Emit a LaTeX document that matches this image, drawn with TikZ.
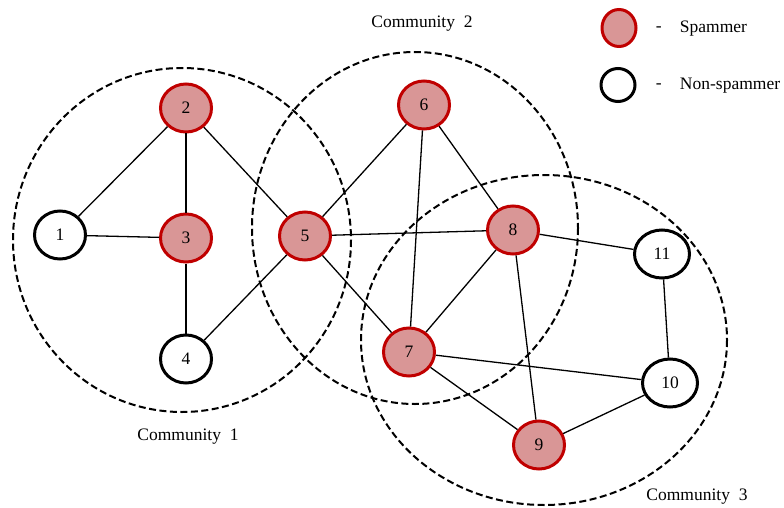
\documentclass[tikz,border=0pt]{standalone}
\usepackage{fontspec}
\setmainfont{Liberation Serif}
\usetikzlibrary{shapes.geometric}

\definecolor{spamfill}{RGB}{217,150,150}
\definecolor{spamline}{RGB}{192,0,0}

\begin{document}
\begin{tikzpicture}[x=1pt,y=-1pt,line width=1.3pt,
      font=\fontsize{17.5}{20}\selectfont,
      user node/.style={ellipse,draw,line width=3pt,inner sep=0pt,
        minimum width=51pt,minimum height=48pt},
      spam node/.style={user node,draw=spamline,fill=spamfill},
      plain node/.style={user node,draw=black,fill=white},
      community/.style={draw,line width=2pt,
        dash pattern=on 7pt off 3.5pt}]

      \useasboundingbox (0,0) rectangle (784,508);

      % communities
      \draw[community] (182,240) ellipse [x radius=169,y radius=172];
      \draw[community] (415,228) ellipse [x radius=163,y radius=176];
      \draw[community] (544,340) ellipse [x radius=183,y radius=165];

      \node (c1) at (188,437) {Community\hspace{0.5em}1};
      \node (c2) at (422,24) {Community\hspace{0.5em}2};
      \node (c3) at (697,497) {Community\hspace{0.5em}3};

      % users
      \node[plain node] (1) at (60,235) {1};
      \node[spam node] (2) at (186,108) {2};
      \node[spam node] (3) at (186,238) {3};
      \node[plain node] (4) at (186,359) {4};
      \node[spam node] (5) at (305,236) {5};
      \node[spam node] (6) at (424,105) {6};
      \node[spam node] (7) at (409,352) {7};
      \node[spam node] (8) at (513,230) {8};
      \node[spam node] (9) at (539,445) {9};
      \node[plain node,minimum width=55pt] (10) at (670,383) {10};
      \node[plain node,minimum width=55pt] (11) at (662,254) {11};

      \path
      (1) edge (2)
      (1) edge (3)
      (2) edge (3)
      (3) edge (4)
      (2) edge (5)
      (4) edge (5)
      (5) edge (6)
      (5) edge (8)
      (5) edge (7)
      (6) edge (7)
      (6) edge (8)
      (8) edge (7)
      (8) edge (11)
      (8) edge (9)
      (7) edge (10)
      (7) edge (9)
      (11) edge (10)
      (9) edge (10);

      % legend
      \node[spam node,minimum width=34pt,minimum height=37pt] (spam) at (619,28) {};
      \node[plain node,minimum width=34pt,minimum height=33pt] (nonspam) at (618,85) {};
      \node[anchor=west] (spamdash) at (652,29) {-};
      \node[anchor=west] (nonspamdash) at (652,86) {-};
      \node[anchor=west] (spamtext) at (676,29) {Spammer};
      \node[anchor=west] (nonspamtext) at (676,86) {Non-spammer};
    \end{tikzpicture}
\end{document}
